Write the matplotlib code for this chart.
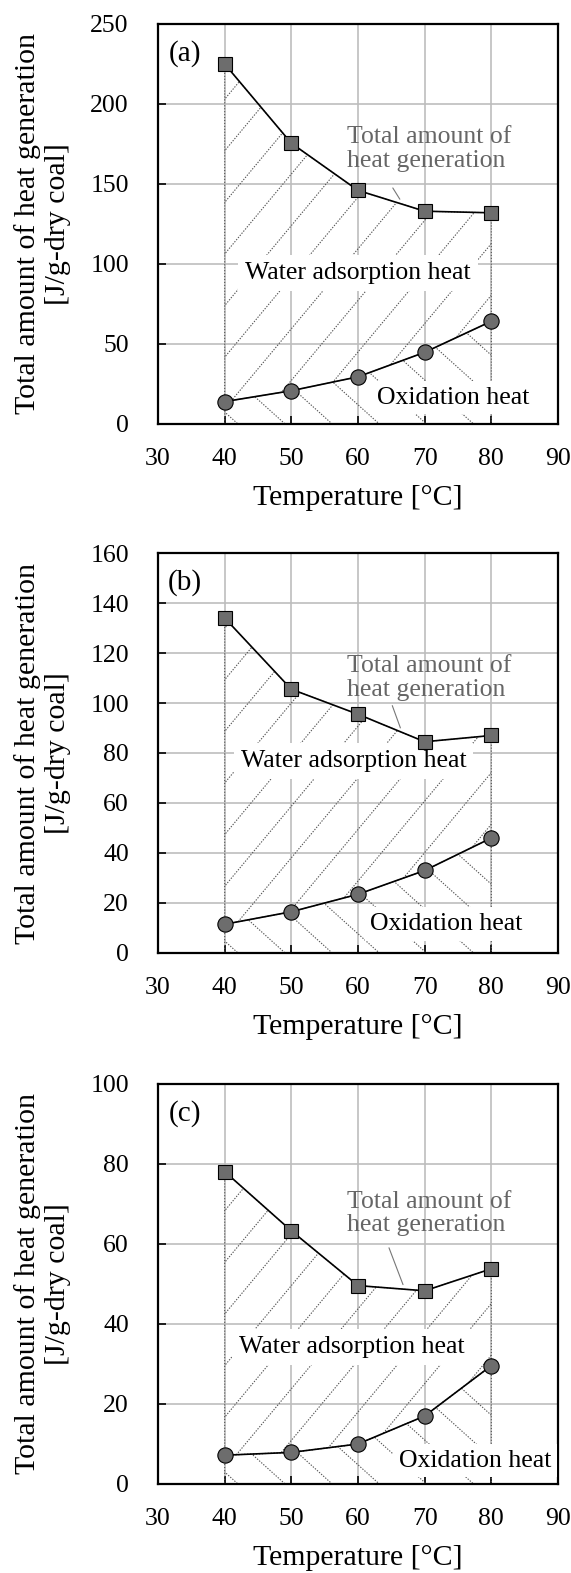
import numpy as np
import matplotlib.pyplot as plt

plt.rcParams['font.family'] = ['Liberation Serif', 'DejaVu Serif']

# values
temps = [40, 50, 60, 70, 80]

total_a = [225, 175.5, 146, 133, 132]
oxid_a = [14, 20.8, 29.5, 44.8, 64.2]
total_b = [134, 105.5, 95.5, 84.5, 87]
oxid_b = [11.5, 16.5, 23.5, 33, 46]
total_c = [78.1, 63.3, 49.6, 48.3, 53.8]
oxid_c = [7.2, 7.9, 10, 17, 29.6]

panel_tags = ['(a)', '(b)', '(c)']
y_tops = [250, 160, 100]
y_steps = [50, 20, 20]
x_ticks = [30, 40, 50, 60, 70, 80, 90]

# label placement per panel (data coords)
total_txt_pos = [(58.3, 172), (58.3, 110), (58.3, 67.6)]
total_arrow = [((65, 149), (66.5, 139)), ((65, 100), (66.5, 89)), ((64.5, 59.7), (66.9, 49.2))]
water_pos = [(60, 94.5), (59.3, 76.8), (59.1, 34.3)]
oxid_pos = [(74.3, 16.4), (73.3, 11.6), (77.6, 5.8)]

HATCH_COL = '#555555'


def hatch(ax, coll, slope, step):
    # sparse dotted diagonal lines clipped to the filled region
    path = coll.get_paths()[0]
    for c in np.arange(-3, 3, step):
        ln, = ax.plot([0, 1], [c, c + slope], transform=ax.transAxes,
                      color=HATCH_COL, lw=0.8, ls=(0, (1.2, 1.3)), zorder=2)
        ln.set_clip_path(path, ax.transData)


fig = plt.figure(figsize=(5.71, 15.73), dpi=100)
W, H = 571, 1573
bottoms_px = [424, 953, 1484]

series = [(total_a, oxid_a), (total_b, oxid_b), (total_c, oxid_c)]

for i, (tot, ox) in enumerate(series):
    ax = fig.add_axes([158 / W, 1 - bottoms_px[i] / H, 400 / W, 400 / H])
    ax.set_xlim(30, 90)
    ax.set_ylim(0, y_tops[i])
    ax.set_xticks(x_ticks)
    ax.set_yticks(np.arange(0, y_tops[i] + 1, y_steps[i]))
    ax.set_axisbelow(True)
    ax.grid(True, color='#bdbdbd', lw=1.2)
    for sp in ax.spines.values():
        sp.set_linewidth(1.6)
    ax.tick_params(direction='in', length=6, width=1.2, labelsize=18.5)
    ax.tick_params(axis='y', pad=21)
    ax.tick_params(axis='x', pad=17)

    upper = ax.fill_between(temps, ox, tot, facecolor='none', edgecolor=HATCH_COL,
                            lw=0.8, linestyle=':', zorder=2)
    lower = ax.fill_between(temps, 0, ox, facecolor='none', edgecolor=HATCH_COL,
                            lw=0.8, linestyle=':', zorder=2)
    hatch(ax, upper, 1.2, 0.129)
    hatch(ax, lower, -0.9, 0.106)

    ax.plot(temps, tot, '-s', color='black', lw=1.2, ms=10.5, mfc='#6d6d6d',
            mec='black', mew=0.8, zorder=5, clip_on=False)
    ax.plot(temps, ox, '-o', color='black', lw=1.2, ms=11, mfc='#6d6d6d',
            mec='black', mew=0.8, zorder=5, clip_on=False)

    ax.text(0.067, 0.927, panel_tags[i], transform=ax.transAxes, fontsize=21,
            ha='center', va='center')

    tx, ty = total_txt_pos[i]
    ax.text(tx, ty, 'Total amount of\nheat generation', color='#666666',
            fontsize=18.5, ha='left', va='center', linespacing=1.1, zorder=3)
    (x0, y0), (x1, y1) = total_arrow[i]
    ax.annotate('', xy=(x1, y1), xytext=(x0, y0),
                arrowprops=dict(arrowstyle='-', color='#777777', lw=0.8))

    wx, wy = water_pos[i]
    ax.text(wx, wy, 'Water adsorption heat', fontsize=18.5, ha='center', va='center',
            bbox=dict(facecolor='white', edgecolor='none', pad=5), zorder=3)
    ox_x, ox_y = oxid_pos[i]
    ax.text(ox_x, ox_y, 'Oxidation heat', fontsize=18.5, ha='center', va='center',
            bbox=dict(facecolor='white', edgecolor='none', pad=4), zorder=3)

    ax.text(0.5, -0.185, 'Temperature [°C]', transform=ax.transAxes, fontsize=21.5,
            ha='center', va='center')
    ax.text(-0.2875, 0.5, 'Total amount of heat generation\n[J/g-dry coal]',
            transform=ax.transAxes, fontsize=21.5, rotation=90, ha='center',
            va='center', multialignment='center', linespacing=1.2)

fig.savefig('out.png', dpi=100)
